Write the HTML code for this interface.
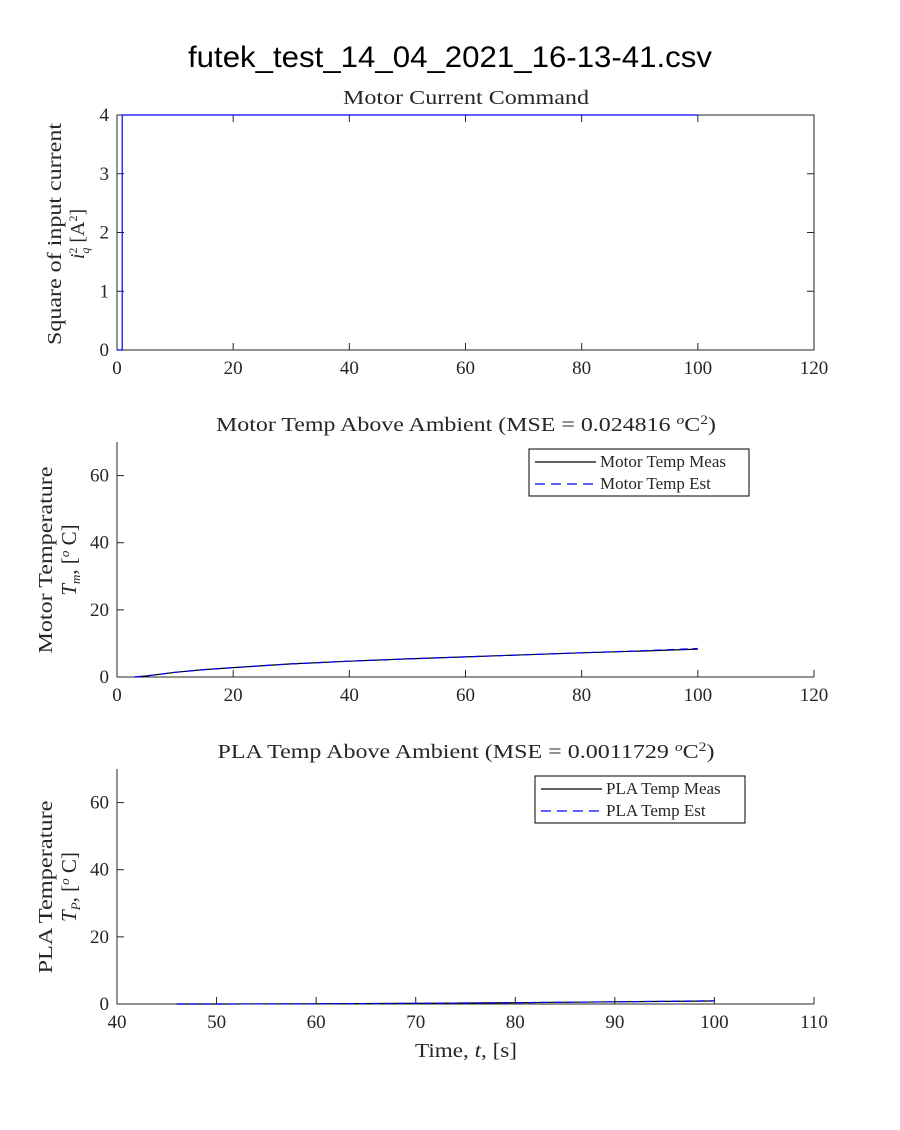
<!DOCTYPE html>
<html><head><meta charset="utf-8"><style>
body{margin:0;background:#fff;}
svg text{font-family:"Liberation Serif",serif;fill:#262626;}
</style></head><body>
<svg id="c" width="900" height="1125" viewBox="0 0 900 1125" xmlns="http://www.w3.org/2000/svg">
<text x="450" y="67" text-anchor="middle" textLength="524" lengthAdjust="spacingAndGlyphs" style="font-family:'Liberation Sans',sans-serif;font-size:30px;fill:#000">futek_test_14_04_2021_16-13-41.csv</text>
</svg>
<script>
// Plot 1 data
const p1X = [0, 0.9, 0.9, 100];
const p1Y = [0, 0, 4, 4];
// Plot 2 data
const p2X = [3, 5, 10, 15, 20, 30, 40, 50, 60, 70, 80, 90, 100];
const p2Meas = [0, 0.3, 1.4, 2.2, 2.8, 3.9, 4.7, 5.4, 6.0, 6.6, 7.2, 7.7, 8.3];
const p2Est = [0, 0.3, 1.4, 2.2, 2.8, 3.9, 4.7, 5.4, 6.0, 6.6, 7.2, 7.8, 8.5];
// Plot 3 data
const p3X = [46, 50, 60, 70, 80, 90, 100];
const p3Meas = [0, 0, 0.05, 0.2, 0.4, 0.65, 0.9];
const p3Est = [0, 0, 0.05, 0.2, 0.4, 0.65, 0.95];
// ticks
const p1XTicks = [0, 20, 40, 60, 80, 100, 120];
const p1YTicks = [0, 1, 2, 3, 4];
const p2YTicks = [0, 20, 40, 60];
const p3XTicks = [40, 50, 60, 70, 80, 90, 100, 110];

const svg = document.getElementById('c');
const NS = 'http://www.w3.org/2000/svg';
function mk(tag, attrs, parent) {
  const e = document.createElementNS(NS, tag);
  for (const k in attrs) e.setAttribute(k, attrs[k]);
  (parent || svg).appendChild(e);
  return e;
}
function scale(d0, d1, r0, r1) { return v => r0 + (v - d0) / (d1 - d0) * (r1 - r0); }

function axes(cfg) {
  const g = mk('g', {});
  
  
  const sx = scale(cfg.x0, cfg.x1, 117, 814);
  const sy = scale(cfg.y0, cfg.y1, cfg.bottom, cfg.top);
  if (cfg.box) {
    const r = mk('rect', {x:117, y:cfg.top, width:697, height:cfg.bottom-cfg.top, fill:'none', stroke:'#262626', 'stroke-width':1}, g);
    
    
  } else {
    const l = mk('path', {d:`M117 ${cfg.top} V${cfg.bottom} H814`, fill:'none', stroke:'#262626', 'stroke-width':1}, g);
    
    
  }
  cfg.xt.forEach(t => {
    const x = sx(t);
    mk('line', {x1:x, x2:x, y1:cfg.bottom, y2:cfg.bottom-7, stroke:'#262626'}, g);
    if (cfg.box) mk('line', {x1:x, x2:x, y1:cfg.top, y2:cfg.top+7, stroke:'#262626'}, g);
    const tx = mk('text', {x:x, y:cfg.bottom+24, 'text-anchor':'middle', 'font-size':19}, g);
    tx.textContent = t;
    
    
  });
  cfg.yt.forEach(t => {
    const y = sy(t);
    mk('line', {x1:117, x2:124, y1:y, y2:y, stroke:'#262626'}, g);
    if (cfg.box) mk('line', {x1:814, x2:807, y1:y, y2:y, stroke:'#262626'}, g);
    const tx = mk('text', {x:109, y:y+6, 'text-anchor':'end', 'font-size':19}, g);
    tx.textContent = t;
    
    
  });
  return {sx, sy, g};
}
function line(ax, xs, ys, color, dash, name) {
  const d = xs.map((x, i) => (i ? 'L' : 'M') + ax.sx(x).toFixed(1) + ' ' + ax.sy(ys[i]).toFixed(1)).join('');
  const p = mk('path', {d:d, fill:'none', stroke:color, 'stroke-width':1.2, 'stroke-dasharray':dash || 'none'}, ax.g);
  
  
}
function text(x, y, str, size, name, rot, len) {
  const t = mk('text', {x:x, y:y, 'text-anchor':'middle', 'font-size':size, fill:'#000'});
  if (rot) t.setAttribute('transform', `rotate(-90 ${x} ${y})`);
  if (len) { t.setAttribute('textLength', len); t.setAttribute('lengthAdjust', 'spacingAndGlyphs'); }
  t.innerHTML = str;
  
  
  return t;
}
function legend(x, y, w, labels, dashes, colors, name) {
  const g = mk('g', {});
  
  
  mk('rect', {x:x, y:y, width:w, height:47, fill:'#fff', stroke:'#000'}, g);
  labels.forEach((l, i) => {
    const yy = y + 13 + i * 22;
    mk('line', {x1:x+6, x2:x+67, y1:yy, y2:yy, stroke:colors[i], 'stroke-width':1.2, 'stroke-dasharray':dashes[i]}, g);
    const t = mk('text', {x:x+71, y:yy+5, 'font-size':17, fill:'#000'}, g);
    t.textContent = l;
    
    
  });
}

// Plot 1
const a1 = axes({name:'current-plot', x0:0, x1:120, y0:0, y1:4, top:115, bottom:350, xt:p1XTicks, yt:p1YTicks, box:true});
line(a1, p1X, p1Y, '#0000ff', null, 'current-command-line');
text(466, 104, 'Motor Current Command', 20, 'current-plot-title', false, 246);
text(61, 234, 'Square of input current', 20, 'current-y-title-1', true, 222);
text(84, 234, '<tspan font-style="italic">i</tspan><tspan font-size="12" dy="-7">2</tspan><tspan font-size="12" font-style="italic" dx="-6" dy="12">q</tspan><tspan dy="-5"> [A</tspan><tspan font-size="12" dy="-7">2</tspan><tspan dy="7">]</tspan>', 20, 'current-y-title-2', true);

// Plot 2
const a2 = axes({name:'motor-temp-plot', x0:0, x1:120, y0:0, y1:70, top:442, bottom:677, xt:p1XTicks, yt:p2YTicks, box:false});
line(a2, p2X, p2Meas, '#000', null, 'motor-temp-meas-line');
line(a2, p2X, p2Est, '#0000ff', '8 5', 'motor-temp-est-line');
text(466, 431, 'Motor Temp Above Ambient (MSE = 0.024816 <tspan font-style="italic" font-size="13" dy="-7">o</tspan><tspan dy="7">C</tspan><tspan font-size="13" dy="-7">2</tspan><tspan dy="7">)</tspan>', 20, 'motor-temp-title', false, 500);
text(52, 560, 'Motor Temperature', 20, 'motor-y-title-1', true, 187);
text(76, 560, '<tspan font-style="italic">T</tspan><tspan font-style="italic" font-size="13" dy="4">m</tspan><tspan dy="-4">, [</tspan><tspan font-style="italic" font-size="13" dy="-7">o</tspan><tspan dy="7"> C]</tspan>', 21, 'motor-y-title-2', true);
legend(529, 449, 220, ['Motor Temp Meas', 'Motor Temp Est'], ['none', '10 6'], ['#000', '#0000ff'], 'motor-legend');

// Plot 3
const a3 = axes({name:'pla-temp-plot', x0:40, x1:110, y0:0, y1:70, top:769, bottom:1004, xt:p3XTicks, yt:p2YTicks, box:false});
line(a3, p3X, p3Meas, '#000', null, 'pla-temp-meas-line');
line(a3, p3X, p3Est, '#0000ff', '8 5', 'pla-temp-est-line');
text(466, 758, 'PLA Temp Above Ambient (MSE = 0.0011729 <tspan font-style="italic" font-size="13" dy="-7">o</tspan><tspan dy="7">C</tspan><tspan font-size="13" dy="-7">2</tspan><tspan dy="7">)</tspan>', 20, 'pla-temp-title', false, 497);
text(52, 887, 'PLA Temperature', 20, 'pla-y-title-1', true, 173);
text(76, 887, '<tspan font-style="italic">T</tspan><tspan font-style="italic" font-size="13" dy="4">P</tspan><tspan dy="-4">, [</tspan><tspan font-style="italic" font-size="13" dy="-7">o</tspan><tspan dy="7"> C]</tspan>', 21, 'pla-y-title-2', true);
legend(535, 776, 210, ['PLA Temp Meas', 'PLA Temp Est'], ['none', '10 6'], ['#000', '#0000ff'], 'pla-legend');
text(466, 1057, 'Time, <tspan font-style="italic">t</tspan>, [s]', 20, 'x-axis-title', false, 102);
</script>
</body></html>
